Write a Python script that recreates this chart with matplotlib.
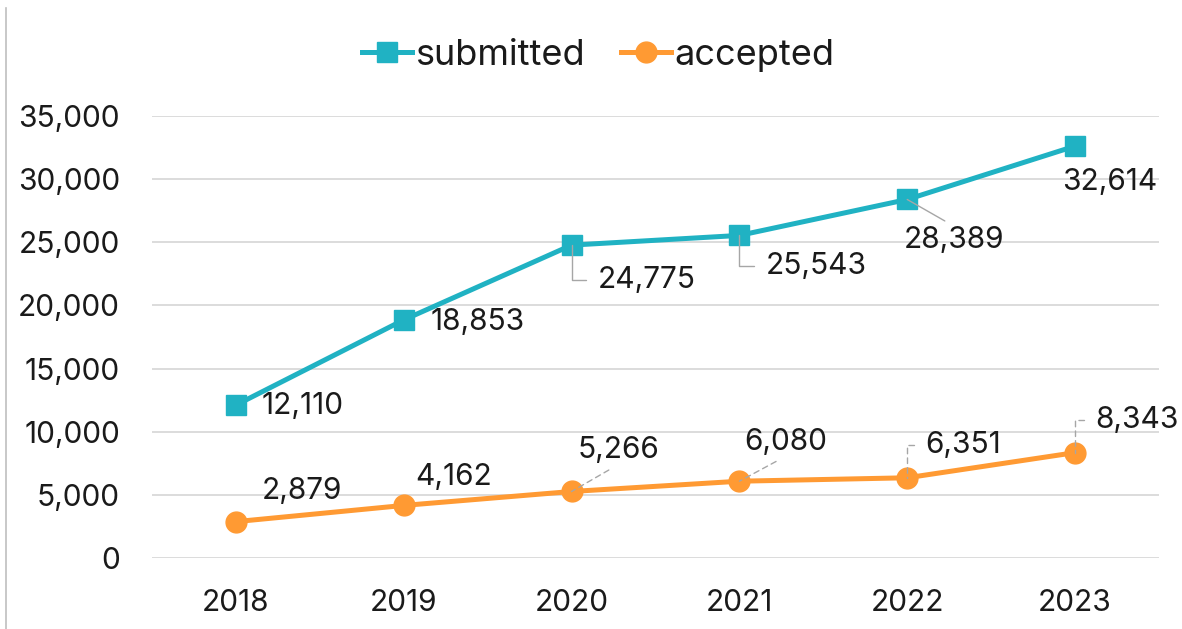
import matplotlib
matplotlib.use("Agg")
import matplotlib.pyplot as plt
from matplotlib.lines import Line2D
from matplotlib.ticker import FuncFormatter

plt.rcParams['font.family'] = ['Inter', 'DejaVu Sans']

# data
years = ["2018", "2019", "2020", "2021", "2022", "2023"]
submitted = [12110, 18853, 24775, 25543, 28389, 32614]
accepted = [2879, 4162, 5266, 6080, 6351, 8343]

# label placement (pixel offsets from the point) and leader type
sub_offsets = [(26, -1), (27, -2), (26, -35), (26, -31), (-3, -41), (-13, -36)]
sub_leaders = [None, None, "angle", "angle", "straight", None]
acc_offsets = [(26, 31), (12, 28), (6, 41), (5, 39), (18, 33), (20, 33)]
acc_leaders = [None, None, "straight", "straight", "angle", "angle"]

teal = "#20B2C3"
orange = "#FF9A33"
txt = "#1a1a1a"
fs = 21.5

fig = plt.figure(figsize=(11.82, 6.29), dpi=100)
ax = fig.add_axes([0.1286, 0.1129, 0.8519, 0.7027])

x = list(range(len(years)))
ax.plot(x, submitted, color=teal, lw=3.6, marker="s", ms=14.5, zorder=3)
ax.plot(x, accepted, color=orange, lw=3.6, marker="o", ms=15, zorder=3)


def add_labels(vals, offsets, leaders, ls):
    for i, (v, off, lead) in enumerate(zip(vals, offsets, leaders)):
        kw = dict(xy=(i, v), xytext=off, textcoords="offset pixels",
                  ha="left", va="center", fontsize=fs, color=txt, zorder=5)
        if lead == "angle":
            kw["arrowprops"] = dict(arrowstyle="-", color="#A6A6A6", lw=1, ls=ls,
                                    connectionstyle="angle,angleA=0,angleB=90,rad=0",
                                    shrinkA=6, shrinkB=0)
        elif lead == "straight":
            # leader points at the near edge of the label, with a small gap
            rel = (0.5, 1.0) if off[1] < 0 else (0.5, 0.0)
            kw["arrowprops"] = dict(arrowstyle="-", color="#A6A6A6", lw=1, ls=ls,
                                    relpos=rel, patchA=None, shrinkA=8, shrinkB=0)
        ax.annotate(f"{v:,}", **kw)


add_labels(submitted, sub_offsets, sub_leaders, "-")
add_labels(accepted, acc_offsets, acc_leaders, (0, (4, 3)))

ax.set_xlim(-0.5, len(years) - 0.5)
ax.set_ylim(0, 35000)
ax.set_yticks(range(0, 35001, 5000))
ax.yaxis.set_major_formatter(FuncFormatter(lambda v, p: f"{int(v):,}"))
ax.set_xticks(x)
ax.set_xticklabels(years)
ax.tick_params(length=0, labelsize=fs, labelcolor=txt)
ax.tick_params(axis="y", pad=23)
ax.tick_params(axis="x", pad=22)
ax.grid(axis="y", color="#D9D9D9", lw=1.3)
ax.set_axisbelow(True)
for s in ax.spines.values():
    s.set_visible(False)

handles = [Line2D([], [], color=teal, lw=3.6, marker="s", ms=14.5),
           Line2D([], [], color=orange, lw=3.6, marker="o", ms=15)]
fig.legend(handles, ["submitted", "accepted"], loc="center", bbox_to_anchor=(0.506, 0.912),
           ncol=2, frameon=False, fontsize=26, handlelength=1.38, handletextpad=0.1,
           columnspacing=1.0, labelcolor=txt)

# chart border on the left edge
fig.add_artist(Line2D([0.005, 0.005], [0, 0.987], color="#BFBFBF", lw=1.2))

fig.savefig("out.png", dpi=100)
